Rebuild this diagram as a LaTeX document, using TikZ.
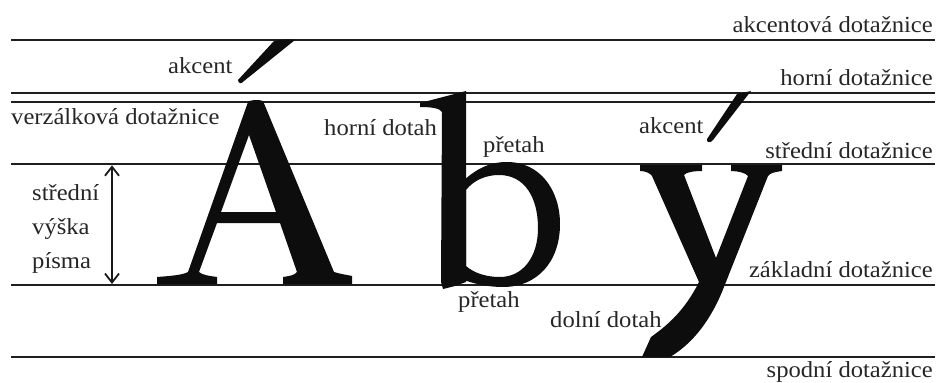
\documentclass[tikz,border=0pt]{standalone}
\usepackage{fontspec}
\setmainfont{Liberation Serif}[FakeStretch=1.07]
\usetikzlibrary{arrows.meta}
\tikzset{
  guide/.style={line width=2pt, draw=black!88},
  lab/.style={font=\fontsize{23}{27}\selectfont, inner sep=0pt, text=black!85},
  glyph/.style={fill=black!95},
  dimarrow/.style={line width=1.8pt, draw=black!90, {Straight Barb[length=9pt,width=14pt,line width=1.8pt]}-{Straight Barb[length=9pt,width=14pt,line width=1.8pt]}},
}
\begin{document}
\begin{tikzpicture}[x=1pt,y=-1pt]
\useasboundingbox (0,0) rectangle (938,383);
% guide lines
\foreach \n/\yy in {akc/39.5, hor/92.7, ver/101.7, str/164.3, zak/285, spo/356.7}{
  \coordinate (\n W) at (11,\yy);
  \coordinate (\n E) at (935,\yy);
  \draw[guide] (\n W) -- (\n E);
}
% letter A
\fill[glyph, even odd rule]
 (248,102) .. controls (250,100) and (258,99) .. (263,101) -- (334,272) .. controls (340,274) and (348,275) .. (352,276) -- (352,284) -- (283,284) -- (283,277) .. controls (290,276) and (295,275) .. (297,272) -- (280,223) -- (217,223) -- (199,272) .. controls (202,275) and (210,276) .. (217,277) -- (217,284) -- (157,284) -- (157,277) .. controls (170,276) and (183,275) .. (188,272) -- cycle
 (249,135) -- (276,212) -- (221,212) -- cycle;
% accent over A
\fill[glyph] (274,41) .. controls (280,40) and (290,39) .. (295,40) -- (244,81) .. controls (242,84) and (238,84) .. (238,80) -- cycle;
% letter b
\fill[glyph] (420,103) -- (466,91) -- (466,282) -- (455,286) -- (443,289) -- (441,282) -- (442,112) .. controls (440,108) and (430,107) .. (420,107) -- cycle;
\fill[glyph, even odd rule]
 (464,180) .. controls (478,168) and (490,162) .. (507,162) .. controls (540,162) and (560,190) .. (560,224) .. controls (560,262) and (537,287) .. (503,287) .. controls (488,287) and (475,284) .. (464,280) -- cycle
 (466,190) .. controls (474,180) and (486,175) .. (499,175) .. controls (525,175) and (538,198) .. (538,228) .. controls (538,258) and (522,277) .. (500,277) .. controls (486,277) and (474,273) .. (466,266) -- cycle;
% letter y
\fill[glyph]
 (640,165) -- (702,165) -- (702,171) .. controls (695,171) and (686,172) .. (684,175) -- (716,258) -- (748,176) .. controls (746,173) and (738,171) .. (731,171) -- (731,165) -- (782,165) -- (782,171) .. controls (775,172) and (770,173) .. (768,176) -- (722,292) .. controls (708,325) and (690,345) .. (670,357) -- (642,357) -- (651,337) .. controls (668,325) and (685,310) .. (699,282) -- (652,176) .. controls (650,173) and (645,171) .. (640,171) -- cycle;
% accent over y
\fill[glyph] (737,94) -- (751,91) -- (713,140) .. controls (711,143) and (706,143) .. (707,139) -- cycle;
% right labels
\node[lab, anchor=base east] (Lakc) at (933,32) {akcentová dotažnice};
\node[lab, anchor=base east] (Lhor) at (933,85) {horní dotažnice};
\node[lab, anchor=base east] (Lstr) at (933,158) {střední dotažnice};
\node[lab, anchor=base east] (Lzak) at (933,277) {základní dotažnice};
\node[lab, anchor=base east] (Lspo) at (933,377) {spodní dotažnice};
% other labels
\node[lab, anchor=base west] (Lakcent1) at (168,73) {akcent};
\node[lab, anchor=base west] (Lver) at (11,124) {verzálková dotažnice};
\node[lab, anchor=base west] (Lhd) at (324,135) {horní dotah};
\node[lab, anchor=base west] (Lpre1) at (483,152) {přetah};
\node[lab, anchor=base west] (Lakcent2) at (639,133) {akcent};
\node[lab, anchor=base west] (Lpre2) at (458,307) {přetah};
\node[lab, anchor=base west] (Ldd) at (550,327) {dolní dotah};
\node[lab, anchor=base west] (Lsv1) at (32,200) {střední};
\node[lab, anchor=base west] (Lsv2) at (32,234) {výška};
\node[lab, anchor=base west] (Lsv3) at (32,268) {písma};
% height arrow
\coordinate (arT) at (112,165.3);
\coordinate (arB) at (112,284);
\draw[dimarrow] (arT) -- (arB);
\end{tikzpicture}
\end{document}
